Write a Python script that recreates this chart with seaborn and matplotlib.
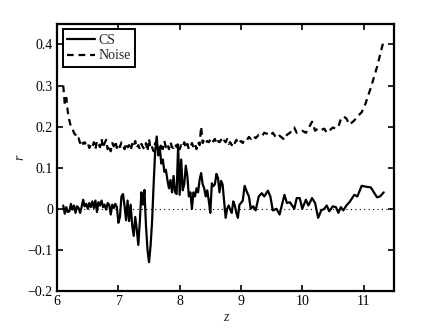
import matplotlib
matplotlib.use("Agg")
import matplotlib.pyplot as plt
import seaborn as sns
import pandas as pd

z = [6.100, 6.125, 6.150, 6.175, 6.200, 6.225, 6.250, 6.275, 6.300, 6.325,
     6.350, 6.375, 6.400, 6.425, 6.450, 6.475, 6.500, 6.525, 6.550, 6.575,
     6.600, 6.625, 6.650, 6.675, 6.700, 6.725, 6.750, 6.775, 6.800, 6.825,
     6.850, 6.875, 6.900, 6.925, 6.950, 6.975, 7.000, 7.025, 7.050, 7.075,
     7.100, 7.125, 7.150, 7.175, 7.200, 7.225, 7.250, 7.275, 7.300, 7.325,
     7.350, 7.375, 7.400, 7.425, 7.450, 7.475, 7.500, 7.525, 7.550, 7.575,
     7.600, 7.625, 7.650, 7.675, 7.700, 7.725, 7.750, 7.775, 7.800, 7.825,
     7.850, 7.875, 7.900, 7.925, 7.950, 7.975, 8.000, 8.025, 8.050, 8.075,
     8.100, 8.125, 8.150, 8.175, 8.200, 8.225, 8.250, 8.275, 8.300, 8.325,
     8.350, 8.375, 8.400, 8.425, 8.450, 8.475, 8.500, 8.525, 8.550, 8.575,
     8.600, 8.625, 8.650, 8.675, 8.700, 8.725, 8.750, 8.775, 8.800, 8.825,
     8.850, 8.875, 8.900, 8.925, 8.950, 8.975, 9.000, 9.030, 9.060, 9.100,
     9.130, 9.160, 9.200, 9.240, 9.290, 9.340, 9.380, 9.440, 9.480, 9.520,
     9.580, 9.630, 9.710, 9.750, 9.800, 9.870, 9.910, 9.960, 10.000, 10.060,
     10.100, 10.160, 10.210, 10.260, 10.310, 10.360, 10.400, 10.440, 10.500, 10.550,
     10.590, 10.630, 10.670, 10.720, 10.770, 10.850, 10.900, 10.970, 11.030, 11.120,
     11.220, 11.270, 11.330]

cs = [0.008, -0.012, 0.004, -0.008, -0.006, 0.012, -0.002, 0.008, -0.010, 0.006,
      0.002, -0.010, 0.004, 0.022, 0.006, 0.012, 0.000, 0.014, 0.004, 0.018,
      0.002, 0.020, -0.008, 0.016, 0.008, 0.020, 0.004, 0.010, -0.002, 0.014,
      0.010, -0.014, 0.010, 0.002, 0.012, 0.004, -0.034, -0.020, 0.030, 0.036,
      0.008, -0.028, 0.020, -0.030, 0.010, -0.040, -0.066, -0.020, -0.050, -0.088,
      -0.030, 0.040, 0.010, 0.046, -0.040, -0.100, -0.130, -0.090, -0.030, 0.060,
      0.140, 0.176, 0.130, 0.150, 0.110, 0.120, 0.090, 0.095, 0.070, 0.050,
      0.070, 0.040, 0.080, 0.040, 0.036, 0.156, 0.034, 0.120, 0.045, 0.060,
      0.105, 0.080, 0.030, 0.040, 0.000, 0.040, 0.030, 0.050, 0.040, 0.070,
      0.087, 0.060, 0.050, 0.030, 0.045, 0.020, -0.010, 0.062, 0.055, 0.060,
      0.085, 0.075, 0.040, 0.068, 0.060, 0.020, -0.022, 0.000, 0.008, -0.002,
      -0.010, 0.018, 0.008, -0.010, -0.022, 0.010, 0.014, 0.020, 0.056, 0.040,
      0.030, 0.000, 0.006, -0.004, 0.030, 0.038, 0.030, 0.044, 0.030, -0.004,
      0.000, -0.014, 0.034, 0.014, 0.016, 0.000, 0.026, 0.026, 0.000, 0.022,
      0.008, 0.026, 0.014, -0.022, -0.004, 0.000, 0.008, -0.006, 0.006, 0.004,
      -0.010, 0.004, -0.004, 0.008, 0.016, 0.034, 0.030, 0.056, 0.054, 0.052,
      0.028, 0.030, 0.040]

noise = [0.300, 0.255, 0.270, 0.235, 0.215, 0.200, 0.195, 0.185, 0.180, 0.170,
         0.172, 0.160, 0.168, 0.158, 0.162, 0.155, 0.160, 0.148, 0.156, 0.150,
         0.162, 0.145, 0.165, 0.158, 0.150, 0.170, 0.148, 0.160, 0.168, 0.145,
         0.155, 0.140, 0.160, 0.152, 0.165, 0.148, 0.158, 0.150, 0.162, 0.155,
         0.145, 0.160, 0.150, 0.155, 0.142, 0.158, 0.150, 0.165, 0.148, 0.155,
         0.145, 0.158, 0.150, 0.145, 0.160, 0.140, 0.170, 0.145, 0.150, 0.140,
         0.160, 0.155, 0.150, 0.140, 0.160, 0.145, 0.165, 0.150, 0.158, 0.145,
         0.162, 0.150, 0.148, 0.158, 0.150, 0.160, 0.145, 0.155, 0.150, 0.162,
         0.148, 0.158, 0.145, 0.152, 0.160, 0.150, 0.158, 0.145, 0.162, 0.155,
         0.200, 0.160, 0.168, 0.160, 0.165, 0.162, 0.168, 0.160, 0.165, 0.170,
         0.158, 0.165, 0.162, 0.168, 0.160, 0.166, 0.162, 0.170, 0.158, 0.162,
         0.155, 0.165, 0.160, 0.168, 0.158, 0.162, 0.165, 0.160, 0.170, 0.168,
         0.175, 0.170, 0.178, 0.172, 0.180, 0.176, 0.185, 0.182, 0.178, 0.185,
         0.172, 0.178, 0.168, 0.180, 0.185, 0.198, 0.185, 0.188, 0.190, 0.185,
         0.195, 0.212, 0.190, 0.196, 0.192, 0.195, 0.185, 0.190, 0.198, 0.195,
         0.200, 0.218, 0.225, 0.220, 0.205, 0.215, 0.225, 0.235, 0.255, 0.295,
         0.345, 0.375, 0.410]

x_ticks = [6, 7, 8, 9, 10, 11]
y_ticks = [-0.2, -0.1, 0, 0.1, 0.2, 0.3, 0.4]
y_tick_labels = ["\u22120.2", "\u22120.1", "0", "0.1", "0.2", "0.3", "0.4"]

sns.set_style("ticks")
plt.rcParams["font.family"] = ["Liberation Serif", "DejaVu Serif"]
plt.rcParams["font.size"] = 10

df = pd.DataFrame({"z": z, "CS": cs, "Noise": noise})

fig = plt.figure(figsize=(4.36, 3.28), dpi=100)
ax = fig.add_axes([0.131, 0.113, 0.773, 0.814])

ax.axhline(0, color="black", linestyle=(0, (1, 3)), linewidth=0.8, zorder=1)
sns.lineplot(data=df, x="z", y="CS", ax=ax, color="black", linewidth=1.6,
             estimator=None, sort=False, label="CS")
sns.lineplot(data=df, x="z", y="Noise", ax=ax, color="black", linewidth=1.6,
             estimator=None, sort=False, label="Noise", dashes=False,
             linestyle=(0, (3, 2.2)))

ax.set_xlim(6, 11.5)
ax.set_ylim(-0.2, 0.45)
ax.set_xticks(x_ticks)
ax.set_xticklabels([str(t) for t in x_ticks])
ax.set_yticks(y_ticks)
ax.set_yticklabels(y_tick_labels)
ax.tick_params(direction="in", length=4, width=1.2, top=True, right=True,
               labelsize=10, colors="black", pad=3)
for s in ax.spines.values():
    s.set_visible(True)
    s.set_linewidth(1.6)
    s.set_color("black")

ax.set_xlabel("z", fontstyle="italic", fontsize=10, labelpad=2)
ax.set_ylabel("r", fontstyle="italic", fontsize=10, labelpad=1)

leg = ax.legend(loc="upper left", frameon=True, fancybox=False, fontsize=10,
                borderpad=0.3, labelspacing=0.2, handlelength=2.0,
                handletextpad=0.3, borderaxespad=0.4)
leg.get_frame().set_edgecolor("black")
leg.get_frame().set_linewidth(1.4)
leg.get_frame().set_alpha(1)

fig.savefig("out.png", dpi=100)
